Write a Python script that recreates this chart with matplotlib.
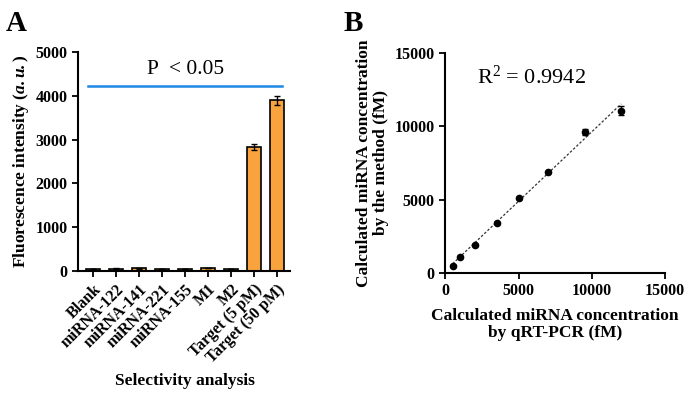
import numpy as np
import matplotlib
matplotlib.use('Agg')
import matplotlib.pyplot as plt

plt.rcParams['font.family'] = ['Liberation Serif', 'DejaVu Serif']
plt.rcParams['mathtext.fontset'] = 'custom'
plt.rcParams['mathtext.rm'] = 'Liberation Serif'
plt.rcParams['mathtext.it'] = 'Liberation Serif:italic'
plt.rcParams['mathtext.bf'] = 'Liberation Serif:bold'
plt.rcParams['mathtext.bfit'] = 'Liberation Serif:bold:italic'

# Panel A data
categories = ['Blank', 'miRNA-122', 'miRNA-141', 'miRNA-221', 'miRNA-155',
              'M1', 'M2', 'Target (5 pM)', 'Target (50 pM)']
intensity = [40, 55, 60, 50, 45, 65, 50, 2840, 3900]
intensity_err = [5, 8, 8, 6, 6, 8, 6, 70, 100]
p_line_y = 4220

# Panel B data
qpcr = [500, 1000, 2000, 3500, 5000, 7000, 9500, 12000]
method = [500, 1080, 1920, 3420, 5100, 6900, 9600, 11050]
method_err = [60, 60, 60, 80, 90, 80, 200, 300]

fig = plt.figure(figsize=(6.85, 3.95), dpi=100)

# --- Panel A ---
axA = fig.add_axes([0.114, 0.314, 0.309, 0.554])
x = np.arange(len(categories))
axA.bar(x, intensity, width=0.58, color='#F9A33F', edgecolor='black', linewidth=1.2,
        yerr=intensity_err, capsize=2.5, error_kw=dict(elinewidth=1.0, capthick=1.0))
axA.set_xlim(-0.65, len(categories) - 0.45)
axA.set_ylim(0, 5000)
axA.set_yticks([0, 1000, 2000, 3000, 4000, 5000])
axA.set_xticks(x)
axA.set_xticklabels(categories, rotation=45, ha='right', rotation_mode='anchor',
                    fontsize=11, fontweight='bold')
axA.plot([-0.2, 8.2], [p_line_y, p_line_y], color='#1E88E5', lw=1.8)
axA.text(4.0, p_line_y + 170, 'P  < 0.05', ha='center', va='bottom', fontsize=15.5)
axA.set_ylabel(r'Fluorescence intensity ($\mathbfit{a.u.}$)', fontsize=12.5,
               fontweight='bold', labelpad=3)
fig.text(0.27, 0.035, 'Selectivity analysis', fontsize=12.5, fontweight='bold',
         ha='center', va='center')

# --- Panel B ---
axB = fig.add_axes([0.650, 0.309, 0.321, 0.557])
slope, intercept = np.polyfit(qpcr, method, 1)
fit_x = np.array([qpcr[0], qpcr[-1]])
axB.plot(fit_x, slope * fit_x + intercept, color='#333333', lw=0.9, ls=(0, (2, 1.5)))
axB.errorbar(qpcr, method, yerr=method_err, fmt='o', color='black', ms=4.5,
             capsize=2, elinewidth=1.0, capthick=1.0)
axB.set_xlim(0, 15000)
axB.set_ylim(0, 15000)
axB.set_xticks([0, 5000, 10000, 15000])
axB.set_yticks([0, 5000, 10000, 15000])
axB.text(2150, 13350, r'R$^2$ = 0.9942', fontsize=16, va='center')
axB.set_xlabel('Calculated miRNA concentration\nby qRT-PCR (fM)', fontsize=12.5,
               fontweight='bold', linespacing=1.1, labelpad=6)
axB.set_ylabel('Calculated miRNA concentration\nby the method (fM)', fontsize=12.5,
               fontweight='bold', linespacing=1.1, labelpad=4)

for ax in (axA, axB):
    for s in ('top', 'right'):
        ax.spines[s].set_visible(False)
    for s in ('left', 'bottom'):
        ax.spines[s].set_linewidth(1.5)
    ax.tick_params(direction='out', length=4, width=1.3, labelsize=11.5)
    for lab in ax.get_yticklabels():
        lab.set_fontweight('bold')
for lab in axB.get_xticklabels():
    lab.set_fontweight('bold')

fig.text(0.008, 0.975, 'A', fontsize=21, fontweight='bold', va='top')
fig.text(0.502, 0.975, 'B', fontsize=21, fontweight='bold', va='top')

fig.savefig('out.png', dpi=100)
